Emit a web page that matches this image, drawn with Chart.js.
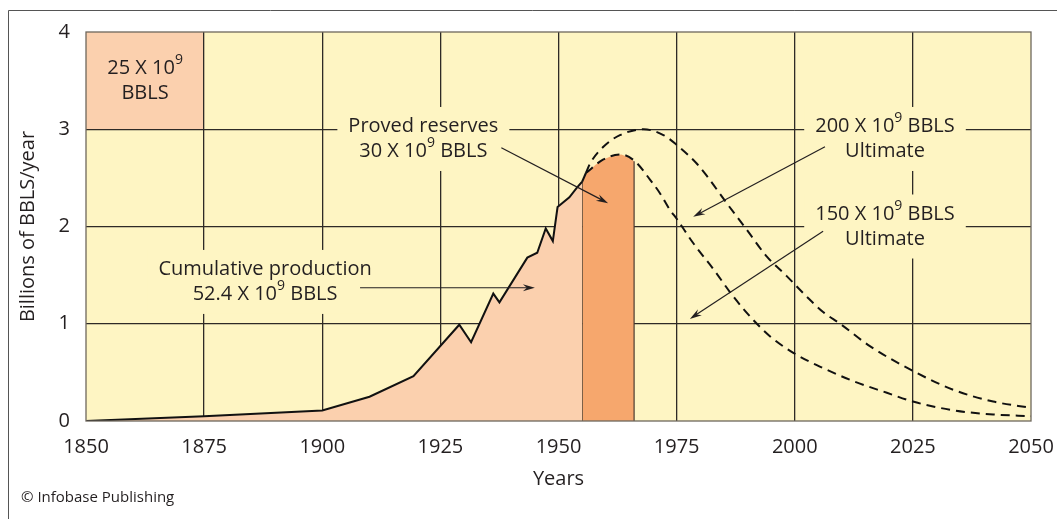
<!DOCTYPE html>
<html>
<head>
<meta charset="utf-8">
<script src="https://cdn.jsdelivr.net/npm/chart.js@4.4.0/dist/chart.umd.min.js"></script>
<style>
  html, body { margin: 0; padding: 0; background: #fff; }
</style>
</head>
<body>
<canvas id="oilChart" width="1057" height="519"></canvas>
<script>
// ---------------- data ----------------
const yearTicks = [1850, 1875, 1900, 1925, 1950, 1975, 2000, 2025, 2050];
const valueTicks = [0, 1, 2, 3, 4];

// cumulative production (billions of BBLS / year)
const prodYears  = [1850, 1875, 1900, 1910, 1919.3, 1929, 1931.5, 1936.2, 1937.5, 1943.4, 1945.5, 1947.3, 1948.8, 1949.8, 1952.3, 1953.9, 1955];
const prodValues = [0,    0.05, 0.108, 0.25, 0.46,  0.99, 0.81,   1.31,   1.22,   1.68,   1.73,   1.98,   1.85,   2.20,   2.30,   2.40,   2.46];

// production line runs on a little past the reserves boundary
const tailYears  = [1955, 1955.8];
const tailValues = [2.46, 2.55];

// proved reserves block
const reserveYears  = [1955, 1955, 1955.8, 1958, 1959.5, 1961.5, 1963.3, 1965, 1966, 1966];
const reserveValues = [0,    2.46, 2.55,   2.64, 2.69,   2.73,   2.74,   2.71, 2.67, 0];

// projected curves
const u150Years  = [1955.8, 1959.5, 1963.3, 1966.2, 1969.4, 1971.5, 1973.6, 1975, 1978.5, 1982.8, 1987, 1991.2, 1994.8, 1999.7, 2005.3, 2012.4, 2019.5, 2025, 2033.6, 2042, 2050];
const u150Values = [2.55,   2.69,   2.74,   2.67,   2.48,   2.34,   2.17,   2.08, 1.83,   1.56,   1.28, 1.04,   0.87,   0.70,   0.56,   0.41,   0.29,   0.20, 0.11,   0.067, 0.05];

const u200Years  = [1955.8, 1956.7, 1959.5, 1963, 1968, 1972.2, 1975, 1979.2, 1981.4, 1985.6, 1989.8, 1994.1, 1998.3, 2002.5, 2006, 2009.6, 2015.9, 2024.8, 2033.6, 2042, 2050];
const u200Values = [2.55,   2.65,   2.82,   2.94, 3.0,  2.94,   2.84, 2.65,   2.52,   2.24,   1.97,   1.69,   1.49,   1.28,   1.12, 1.0,    0.77,   0.52,   0.32,   0.20, 0.135];

// the "25 X 10^9" cell (years, values)
const cellYears  = [1850, 1875];
const cellValues = [3, 4];

const pts = (xs, ys) => xs.map((x, i) => ({ x: x, y: ys[i] }));

// ---------------- styling ----------------
const FONT = "'Open Sans', 'Noto Sans', sans-serif";
const INK = "#231f20";
const PLOT_BG = "#fef5c3";
const LIGHT = "#fbd0ae";
const DARK = "#f6a76d";
const GRID = "#2e2a26";

// annotation text (position in data units; ^9 = superscript)
const notes = [
  { lines: ["25 X 10^9", "BBLS"], at: [1862.5, 3.5], box: false },
  { lines: ["Proved reserves", "30 X 10^9 BBLS"], at: [1921.4, 2.9], box: true },
  { lines: ["Cumulative production", "52.4 X 10^9 BBLS"], at: [1887.9, 1.43], box: true },
  { lines: ["200 X 10^9 BBLS", "Ultimate"], at: [2019.1, 2.9], box: true },
  { lines: ["150 X 10^9 BBLS", "Ultimate"], at: [2019.1, 2.0], box: true }
];
const arrows = [
  { from: [1937.9, 2.81], to: [1960.5, 2.24] },
  { from: [1908.0, 1.37], to: [1945.0, 1.37] },
  { from: [2006.4, 2.82], to: [1978.5, 2.1] },
  { from: [2006.0, 1.95], to: [1977.8, 1.05] }
];

function lineParts(str) {
  const bits = str.split(/\^(\d)/);
  return bits.map((t, i) => ({ t: t, sup: i % 2 === 1 }));
}

function partsWidth(ctx, parts) {
  let w = 0;
  parts.forEach((p) => {
    ctx.font = (p.sup ? "14px " : "20px ") + FONT;
    w += ctx.measureText(p.t).width;
  });
  return w;
}

function drawParts(ctx, parts, cx, cy) {
  const w = partsWidth(ctx, parts);
  let x = cx - w / 2;
  ctx.textBaseline = "middle";
  ctx.textAlign = "left";
  ctx.fillStyle = INK;
  parts.forEach((p) => {
    ctx.font = (p.sup ? "14px " : "20px ") + FONT;
    ctx.fillText(p.t, x, p.sup ? cy - 8 : cy);
    x += ctx.measureText(p.t).width;
  });
}

function drawArrow(ctx, x1, y1, x2, y2) {
  const ang = Math.atan2(y2 - y1, x2 - x1);
  const len = 12, half = 3.5;
  ctx.strokeStyle = INK;
  ctx.fillStyle = INK;
  ctx.lineWidth = 1.2;
  ctx.beginPath();
  ctx.moveTo(x1, y1);
  ctx.lineTo(x2 - Math.cos(ang) * 6, y2 - Math.sin(ang) * 6);
  ctx.stroke();
  ctx.beginPath();
  ctx.moveTo(x2, y2);
  ctx.lineTo(x2 - Math.cos(ang) * len + Math.sin(ang) * half, y2 - Math.sin(ang) * len - Math.cos(ang) * half);
  ctx.lineTo(x2 - Math.cos(ang) * (len - 4), y2 - Math.sin(ang) * (len - 4));
  ctx.lineTo(x2 - Math.cos(ang) * len - Math.sin(ang) * half, y2 - Math.sin(ang) * len + Math.cos(ang) * half);
  ctx.closePath();
  ctx.fill();
}

const decorPlugin = {
  id: "decor",
  beforeDraw(chart) {
    const { ctx, chartArea: a } = chart;
    const xs = chart.scales.x, ys = chart.scales.y;
    ctx.save();
    ctx.fillStyle = "#fff";
    ctx.fillRect(0, 0, chart.width, chart.height);
    ctx.fillStyle = PLOT_BG;
    ctx.fillRect(a.left, a.top, a.right - a.left, a.bottom - a.top);
    // shaded cell behind the grid
    const x0 = xs.getPixelForValue(cellYears[0]), x1 = xs.getPixelForValue(cellYears[1]);
    const y0 = ys.getPixelForValue(cellValues[1]), y1 = ys.getPixelForValue(cellValues[0]);
    ctx.fillStyle = LIGHT;
    ctx.fillRect(x0, y0, x1 - x0, y1 - y0);
    ctx.restore();
  },
  afterDraw(chart) {
    const { ctx, chartArea: a } = chart;
    const xs = chart.scales.x, ys = chart.scales.y;
    ctx.save();

    // plot frame
    ctx.strokeStyle = "#6e675c";
    ctx.lineWidth = 1.3;
    ctx.strokeRect(a.left, a.top, a.right - a.left, a.bottom - a.top);

    // annotation boxes and text
    notes.forEach((n) => {
      const cx = xs.getPixelForValue(n.at[0]);
      const cy = ys.getPixelForValue(n.at[1]);
      const rows = n.lines.map(lineParts);
      const lh = 25;
      const top = cy - (rows.length - 1) * lh / 2;
      if (n.box) {
        const w = Math.max(...rows.map((r) => partsWidth(ctx, r))) + 22;
        ctx.fillStyle = PLOT_BG;
        ctx.fillRect(cx - w / 2, cy - 32, w, 64);
      }
      rows.forEach((r, i) => drawParts(ctx, r, cx, top + i * lh));
    });

    arrows.forEach((ar) => {
      drawArrow(ctx,
        xs.getPixelForValue(ar.from[0]), ys.getPixelForValue(ar.from[1]),
        xs.getPixelForValue(ar.to[0]), ys.getPixelForValue(ar.to[1]));
    });

    // copyright
    ctx.fillStyle = INK;
    ctx.font = "15px " + FONT;
    ctx.textAlign = "left";
    ctx.textBaseline = "middle";
    ctx.fillText("\u00A9 Infobase Publishing", 21, 498);

    // outer frame (top and left only)
    ctx.strokeStyle = "#555";
    ctx.lineWidth = 1;
    ctx.beginPath();
    ctx.moveTo(8.5, chart.height);
    ctx.lineTo(8.5, 10.5);
    ctx.lineTo(chart.width, 10.5);
    ctx.stroke();
    ctx.restore();
  }
};

const dashed = {
  borderColor: "#111",
  borderWidth: 2,
  borderDash: [9, 6],
  pointRadius: 0,
  fill: false,
  tension: 0.4,
  cubicInterpolationMode: "monotone"
};

const ctx = document.getElementById("oilChart").getContext("2d");
new Chart(ctx, {
  type: "line",
  data: {
    datasets: [
      Object.assign({ label: "200 X 10^9 BBLS Ultimate", data: pts(u200Years, u200Values) }, dashed),
      Object.assign({ label: "150 X 10^9 BBLS Ultimate", data: pts(u150Years, u150Values) }, dashed),
      {
        label: "production tail",
        data: pts(tailYears, tailValues),
        borderColor: "#111",
        borderWidth: 2,
        pointRadius: 0,
        fill: false,
        tension: 0
      },
      {
        label: "Cumulative production",
        data: pts(prodYears, prodValues),
        borderColor: "#111",
        borderWidth: 2,
        backgroundColor: LIGHT,
        pointRadius: 0,
        fill: "origin",
        tension: 0
      },
      {
        label: "Proved reserves",
        data: pts(reserveYears, reserveValues),
        backgroundColor: DARK,
        borderWidth: 1.2,
        pointRadius: 0,
        fill: "origin",
        tension: 0,
        segment: {
          borderColor: (c) => (c.p0.parsed.x === c.p1.parsed.x ? "#4a3b30" : "rgba(0,0,0,0)")
        }
      }
    ]
  },
  options: {
    responsive: false,
    animation: false,
    layout: { padding: { left: 16, right: 26, top: 32, bottom: 28 } },
    plugins: {
      legend: { display: false },
      tooltip: { enabled: false }
    },
    scales: {
      x: {
        type: "linear",
        min: 1850,
        max: 2050,
        z: 1,
        afterFit: (s) => { s.height = 70; s.paddingLeft = 0; s.paddingRight = 0; },
        afterBuildTicks: (s) => { s.ticks = yearTicks.map((v) => ({ value: v })); },
        border: { display: false },
        grid: {
          drawTicks: false,
          lineWidth: 1.3,
          color: (c) => (c.tick && (c.tick.value === 1850 || c.tick.value === 2050) ? "rgba(0,0,0,0)" : GRID)
        },
        ticks: {
          padding: 14,
          color: INK,
          font: { family: FONT, size: 20 },
          maxRotation: 0,
          callback: (v) => String(v)
        },
        title: {
          display: true,
          text: "Years",
          color: INK,
          padding: 0,
          font: { family: FONT, size: 20 }
        }
      },
      y: {
        min: 0,
        max: 4,
        z: 1,
        afterFit: (s) => { s.width = 70; s.paddingTop = 0; s.paddingBottom = 0; },
        afterBuildTicks: (s) => { s.ticks = valueTicks.map((v) => ({ value: v })); },
        border: { display: false },
        grid: {
          drawTicks: false,
          lineWidth: 1.3,
          color: (c) => (c.tick && (c.tick.value === 0 || c.tick.value === 4) ? "rgba(0,0,0,0)" : GRID)
        },
        ticks: {
          padding: 16,
          color: INK,
          font: { family: FONT, size: 20 }
        },
        title: {
          display: true,
          text: "Billions of BBLS/year",
          color: INK,
          padding: 0,
          font: { family: FONT, size: 20 }
        }
      }
    }
  },
  plugins: [decorPlugin]
});
</script>
</body>
</html>
